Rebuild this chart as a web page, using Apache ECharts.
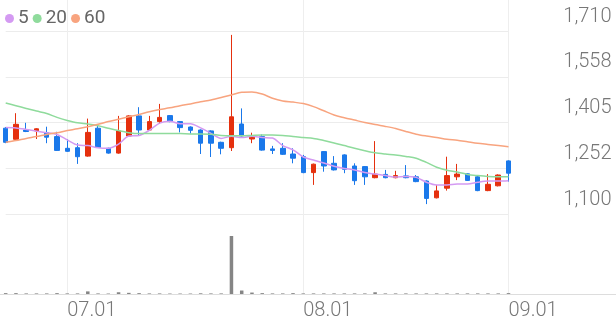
<!DOCTYPE html>
<html>
<head>
<meta charset="utf-8">
<script src="https://cdn.jsdelivr.net/npm/echarts@6/dist/echarts.min.js"></script>
<style>html,body{margin:0;padding:0;background:#fff;}#c{width:616px;height:321px;}</style>
</head>
<body>
<div id="c"></div>
<script>
const dates = ['06.23','06.24','06.25','06.26','06.27','06.30',
  '07.01','07.02','07.03','07.04','07.07','07.08','07.09','07.10','07.11','07.14','07.15','07.16','07.17','07.18','07.21','07.22','07.23','07.24','07.25','07.28','07.29','07.30','07.31',
  '08.01','08.04','08.05','08.06','08.07','08.08','08.11','08.12','08.13','08.14','08.18','08.19','08.20','08.21','08.22','08.25','08.26','08.27','08.28','08.29',
  '09.01'];
const opens  = [1386,1349,1380,1377,1371,1358,1319,1321,1293,1386,1319,1303,1360,1427,1380,1408,1428,1408,1390,1380,1377,1339,1321,1400,1350,1358,1317,1319,1300,1291,1238,1308,1269,1297,1260,1258,1221,1232,1221,1227,1224,1210,1154,1186,1224,1234,1224,1178,1194,1277];
const closes = [1339,1399,1375,1384,1356,1312,1309,1291,1372,1322,1303,1377,1427,1380,1408,1422,1408,1388,1379,1336,1336,1319,1424,1360,1358,1313,1312,1299,1286,1238,1266,1260,1247,1249,1211,1224,1233,1221,1228,1221,1208,1152,1177,1228,1233,1212,1178,1199,1230,1236];
const lows   = [1336,1347,1373,1350,1336,1310,1307,1267,1291,1320,1301,1301,1358,1361,1378,1400,1406,1372,1368,1300,1290,1299,1310,1358,1336,1311,1300,1297,1269,1236,1197,1241,1245,1236,1197,1197,1219,1219,1219,1219,1206,1133,1152,1178,1213,1210,1176,1176,1192,1208];
const highs  = [1390,1436,1404,1386,1391,1374,1350,1336,1418,1397,1321,1427,1429,1456,1427,1467,1430,1410,1392,1382,1379,1341,1697,1452,1371,1365,1327,1336,1319,1297,1268,1310,1293,1299,1269,1260,1343,1247,1244,1263,1230,1212,1197,1291,1267,1236,1230,1233,1232,1279];
const volumes = [1.5,1.5,1,1,1,1.5,1,1,4.5,1,0.8,3,2,1.5,1,1,0.8,0.8,0.8,1.2,1,1,100,6,2.5,1.5,1,1,1.5,1,1,1,1,1,1,1,3,1,1,1,1,1,1,1,1,1,1,1,1,1.5];
const ma5  = [1388,1387,1382,1376,1371,1365,1347,1330,1328,1321,1319,1333,1360,1362,1379,1403,1409,1401,1401,1387,1369,1352,1359,1355,1359,1355,1353,1328,1314,1290,1280,1270,1259,1252,1247,1238,1233,1228,1223,1225,1222,1206,1197,1197,1200,1200,1206,1210,1210,1211];
const ma20 = [1470,1461,1452,1443,1435,1422,1412,1404,1400,1394,1386,1378,1371,1368,1368,1368,1368,1368,1367,1367,1366,1362,1361,1361,1362,1363,1363,1362,1358,1355,1352,1345,1337,1328,1319,1311,1304,1300,1297,1292,1286,1272,1256,1246,1240,1232,1228,1225,1224,1224];
const ma60 = [1339,1345,1352,1358,1365,1371,1378,1384,1391,1399,1408,1416,1424,1432,1441,1448,1454,1461,1467,1474,1480,1488,1497,1506,1507,1500,1486,1477,1473,1468,1458,1444,1430,1421,1413,1405,1398,1392,1385,1375,1366,1360,1355,1349,1346,1341,1336,1332,1328,1324];
const priceTicks = ['1,100','1,252','1,405','1,558','1,710'];
const legendNames = ['5','20','60'];

const yMin = 1100, yMax = 1710, yStep = 152.5;
const UP = '#e5300e', DOWN = '#1a78ea';
const monthStart = (i, v) => String(v).endsWith('.01');

const chart = echarts.init(document.getElementById('c'));
chart.setOption({
  animation: false,
  textStyle: { fontFamily: 'Roboto' },
  legend: {
    data: legendNames,
    left: 0, top: 4,
    icon: 'circle', itemWidth: 9, itemHeight: 9, itemGap: 4,
    textStyle: { fontSize: 19, color: '#666', fontFamily: 'Roboto', padding: [0, 0, 0, -1] }
  },
  grid: [
    { left: 5.7, right: 107.5, top: 31, height: 183 },
    { left: 5.7, right: 107.5, top: 0, height: 294 },
    { left: 0, right: 0, top: 293, height: 1 }
  ],
  xAxis: [
    { type: 'category', gridIndex: 0, data: dates, boundaryGap: false, show: false },
    { type: 'category', gridIndex: 1, data: dates, boundaryGap: false,
      axisLine: { show: false }, axisTick: { show: false },
      axisLabel: { interval: monthStart, align: 'left', margin: 7, fontSize: 20, color: '#777', fontFamily: 'Roboto', fontWeight: 300 },
      splitLine: { show: true, interval: monthStart, lineStyle: { color: '#eeeeee', width: 1 } } },
    { type: 'value', gridIndex: 2, min: 0, max: 1,
      axisLine: { show: true, lineStyle: { color: '#dddddd', width: 1 } },
      axisTick: { show: false }, axisLabel: { show: false }, splitLine: { show: false } }
  ],
  yAxis: [
    { type: 'value', gridIndex: 0, position: 'right', min: yMin, max: yMax, interval: yStep,
      axisLine: { show: false }, axisTick: { show: false },
      splitLine: { show: true, lineStyle: { color: '#ececec', width: 1 } },
      axisLabel: { align: 'right', margin: 103, verticalAlign: 'bottom', lineHeight: 29,
        fontSize: 20, color: '#777', fontFamily: 'Roboto', fontWeight: 300,
        formatter: v => priceTicks[Math.round((v - yMin) / yStep)] || '' } },
    { type: 'value', gridIndex: 1, min: 0, max: 507, show: false, splitLine: { show: false } },
    { type: 'value', gridIndex: 2, show: false }
  ],
  series: [
    { name: '5', type: 'line', xAxisIndex: 0, yAxisIndex: 0, data: ma5, showSymbol: false, smooth: 0.3,
      color: '#d49af2', lineStyle: { width: 1.5, color: '#d49af2' } },
    { name: '20', type: 'line', xAxisIndex: 0, yAxisIndex: 0, data: ma20, showSymbol: false, smooth: 0.3,
      color: '#8fdb9c', lineStyle: { width: 1.5, color: '#8fdb9c' } },
    { name: '60', type: 'line', xAxisIndex: 0, yAxisIndex: 0, data: ma60, showSymbol: false, smooth: 0.3,
      color: '#f8a47f', lineStyle: { width: 1.5, color: '#f8a47f' } },
    { name: 'price', type: 'candlestick', xAxisIndex: 0, yAxisIndex: 0, clip: false, barWidth: 5,
      data: dates.map((d, i) => [opens[i], closes[i], lows[i], highs[i]]),
      itemStyle: { color: UP, color0: DOWN, borderColor: UP, borderColor0: DOWN, borderWidth: 1 } },
    { name: 'volume', type: 'bar', xAxisIndex: 1, yAxisIndex: 1, data: volumes, barWidth: 3.5,
      itemStyle: { color: '#858585' } }
  ]
});
</script>
</body>
</html>
